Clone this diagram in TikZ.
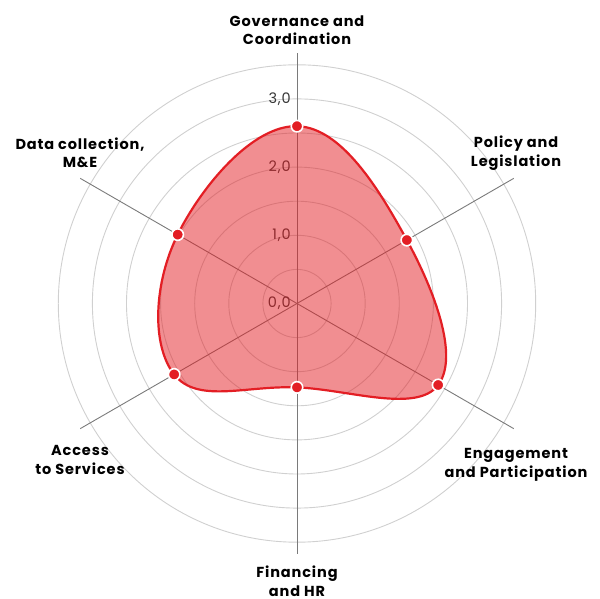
\documentclass[tikz,border=0pt]{standalone}
\usepackage{fontspec}
\setmainfont{Poppins}
\newfontfamily\labelfont{Poppins}[LetterSpace=6]
\definecolor{radarred}{RGB}{227,30,36}
\definecolor{gridgrey}{RGB}{208,208,208}
\definecolor{axisgrey}{RGB}{122,122,122}
\definecolor{tickgrey}{RGB}{55,55,55}
\begin{document}
\begin{tikzpicture}[x=68.2pt,y=68.2pt,
  ring/.style={draw=gridgrey,line width=0.9pt},
  spoke/.style={draw=axisgrey,line width=0.9pt},
  axislabel/.style={font=\labelfont\bfseries\fontsize{14.5}{18.5}\selectfont,align=center,text=black,inner sep=0pt},
  ticklabel/.style={font=\labelfont\fontsize{14.5}{16}\selectfont,text=tickgrey,anchor=east,inner sep=0pt},
  dot/.style={circle,fill=radarred,draw=white,line width=1.6pt,inner sep=0pt,minimum size=11.5pt}]
\useasboundingbox (-297pt,-295.5pt) rectangle (303pt,303.5pt);

\coordinate (o) at (0,0);
\foreach \r in {0.5,1,...,3.5}
  \draw[ring] (o) circle (\r);
\foreach \a/\n in {90/e1,30/e2,-30/e3,-90/e4,-150/e5,150/e6} {
  \coordinate (\n) at (\a:3.67);
  \draw[spoke] (o) -- (\n);
}
\foreach \v in {0,1,2,3}
  \node[ticklabel] (t\v) at ([xshift=-6pt]0,\v) {\v,0};

% scores
\draw[draw=radarred,line width=2.2pt,fill=radarred,fill opacity=0.5]
  plot[smooth cycle,tension=0.7] coordinates {(90:2.6) (30:1.86) (-30:2.39) (-90:1.23) (-150:2.08) (150:2.02)};
\foreach \a/\v/\n in {90/2.6/p1,30/1.86/p2,-30/2.39/p3,-90/1.23/p4,-150/2.08/p5,150/2.02/p6}
  \node[dot] (\n) at (\a:\v) {};

\node[axislabel] (gov) at (0pt,273.5pt) {Governance and\\Coordination};
\node[axislabel] (pol) at (219pt,150.5pt) {Policy and\\Legislation};
\node[axislabel] (eng) at (219pt,-161.5pt) {Engagement\\and Participation};
\node[axislabel] (fin) at (0pt,-278pt) {Financing\\and HR};
\node[axislabel] (acc) at (-217pt,-156.5pt) {Access\\to Services};
\node[axislabel] (dat) at (-217pt,150.5pt) {Data collection,\\M\&E};
\end{tikzpicture}
\end{document}
